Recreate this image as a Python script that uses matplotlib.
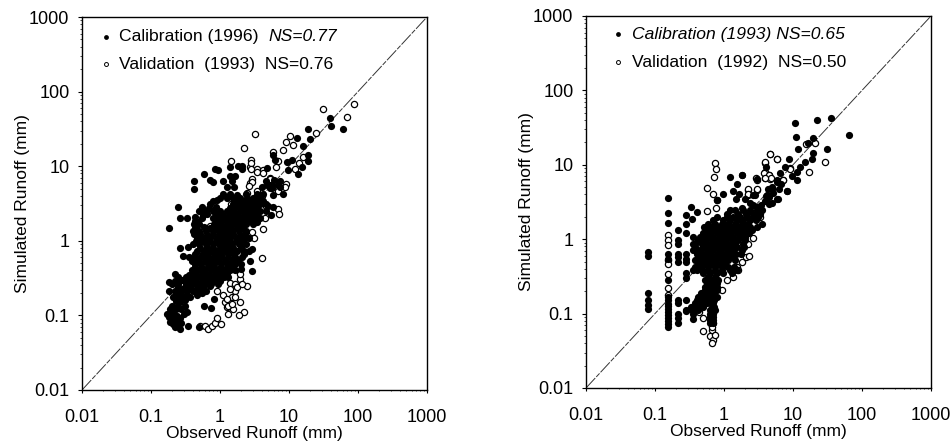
import matplotlib
matplotlib.use('Agg')
import matplotlib.pyplot as plt
import numpy as np
from matplotlib.ticker import LogLocator, NullFormatter

plt.rcParams['font.family'] = ['Liberation Sans', 'DejaVu Sans']

tick_vals = [0.01, 0.1, 1, 10, 100, 1000]
tick_labels = ['0.01', '0.1', '1', '10', '100', '1000']

# observed, simulated (mm)
cal_1996 = [(.22,.069),(.26,.066),(.34,.072),(.50,.070),(.19,.082),(.23,.08),(.27,.078),(.18,.095),(.22,.09),(.26,.093),
    (.17,.105),(.21,.11),(.3,.105),(.33,.11),(.2,.135),(.235,.13),(.31,.135),(.59,.135),(.73,.125),(.23,.157),(.26,.15),(.31,.16),(.83,.165),
    (.23,.19),(.275,.195),(.33,.19),(.46,.185),(.55,.2),(.18,.21),(.25,.24),(.3,.235),(.37,.24),(.46,.23),(.57,.24),(.71,.25),
    (.185,.28),(.22,.29),(.285,.3),(.36,.28),(.43,.3),(.54,.29),(.68,.28),(.84,.3),(1.0,.29),
    (.22,.36),(.36,.35),(.43,.37),(.54,.36),(.68,.35),(.85,.36),(1.05,.35),(1.25,.36),(2.9,.39),
    (.43,.44),(.54,.43),(.66,.45),(.82,.44),(1.0,.43),(1.25,.45),(1.55,.44),
    (.39,.54),(.47,.55),(.6,.53),(.75,.54),(.95,.55),(1.2,.53),(1.5,.54),(1.85,.55),(2.7,.53),
    (.29,.63),(.43,.66),(.54,.65),(.68,.67),(.85,.66),(1.05,.65),(1.3,.67),(1.6,.66),(2.2,.68),(2.9,.77),
    (.26,.8),(.34,.83),(.51,.81),(.64,.82),(.8,.8),(1.0,.81),(1.25,.83),(1.55,.8),(2.0,.82),
    (.45,1),(.56,1.02),(.7,.98),(.88,1),(1.1,1.02),(1.35,.98),(1.7,1),(2.1,1.02),
    (.42,1.22),(.52,1.25),(.64,1.2),(.8,1.23),(1,1.25),(1.25,1.22),(1.55,1.24),(1.95,1.2),(2.3,1.23),
    (.18,1.5),(.44,1.5),(.58,1.52),(.72,1.48),(.9,1.5),(1.12,1.52),(1.4,1.5),(1.75,1.48),(2.15,1.52),
    (.44,1.85),(.48,1.8),(.9,1.85),(1.12,1.88),(1.4,1.82),(1.75,1.85),(2.15,1.88),(2.7,1.85),(3.4,1.8),
    (.265,2.05),(.33,2.05),(.43,2.1),(.56,2.25),(.65,2.3),(.9,2.28),(1.1,2.25),(1.4,2.3),(1.75,2.28),(2.2,2.25),(2.7,2.3),(3.4,2.28),(5.5,2.2),
    (.25,2.85),(.55,2.8),(.7,2.75),(.88,2.8),(1.4,2.75),(1.7,2.85),(2.2,2.8),(2.7,2.75),(3.4,2.8),(4.9,2.9),(5.9,2.8),
    (.8,3.4),(.9,3.5),(1.7,3.4),(2.2,3.45),(2.7,3.4),(3.4,3.45),(4.2,3.4),
    (1.12,4.2),(1.4,4.25),(1.75,4.15),(2.4,4.2),(3.4,4.25),(4.2,4.2),(5.9,4.15),(8.2,4.2),
    (.42,5),(1.25,5.2),(1.6,5.2),(4,5.2),(5.3,5.1),(7.3,5.2),
    (.42,6.3),(.72,6.6),(.8,6.1),(1.1,6.3),(1.5,6.4),(4.7,6.4),(6,6.5),(7.5,6.3),
    (.59,7.9),(.85,9.2),(.93,8.9),(1.4,7.5),(1.65,7.5),(1.4,9.9),(1.85,10.2),(2.1,10),
    (39,44.6),(40.5,34.8),(60,31.7),(18.8,31.7),(20,23.3),(13,24),(16,18.7),(18.8,14),(18.8,11.8),(15.4,9.8),(13.5,7.9),
    (11,12.2),(9.4,11.4),(9.7,8.9),(5.9,14),(6.3,12.2),(4.8,9.5),(2.1,9.2),(5.7,5.6),(4.8,5.6),(6.9,5.6),(5.7,5.1)]

# points in the solid middle of the left cloud, between the ones above
cal_1996_core = [(.21,.077),(.25,.077),(.2,.097),(.24,.097),(.19,.12),(.23,.12),(.27,.12),(.21,.175),(.25,.175),(.29,.175),(.37,.175),
    (.22,.215),(.27,.215),(.33,.215),(.41,.215),(.5,.215),(.62,.215),(.2,.26),(.25,.26),(.32,.26),(.39,.26),(.48,.26),(.6,.26),(.75,.26),(.92,.26),
    (.25,.325),(.32,.325),(.39,.325),(.48,.325),(.6,.325),(.75,.325),(.93,.325),(1.13,.325),(1.3,.33),
    (.39,.4),(.48,.4),(.6,.4),(.75,.4),(.93,.4),(1.13,.4),(1.4,.4),(1.65,.4),(2,.42),
    (.43,.49),(.53,.49),(.66,.49),(.83,.49),(1.03,.49),(1.3,.49),(1.65,.49),(2.0,.49),
    (.35,.6),(.43,.6),(.53,.6),(.66,.6),(.83,.6),(1.03,.6),(1.3,.6),(1.65,.6),(2.05,.6),
    (.46,.73),(.58,.73),(.72,.73),(.9,.73),(1.12,.73),(1.4,.73),(1.75,.73),(2.2,.73),(2.6,.73),
    (.4,.9),(.5,.9),(.62,.9),(.78,.9),(.97,.9),(1.2,.9),(1.5,.9),(1.9,.9),(2.35,.9),
    (.47,1.1),(.58,1.1),(.72,1.1),(.9,1.1),(1.12,1.1),(1.4,1.1),(1.75,1.1),(2.2,1.1),(2.6,1.1),
    (.4,1.37),(.5,1.37),(.62,1.37),(.78,1.37),(.97,1.37),(1.2,1.37),(1.5,1.37),(1.9,1.37),(2.4,1.37),
    (.42,1.67),(.5,1.67),(.82,1.67),(1,1.67),(1.25,1.67),(1.55,1.67),(1.95,1.67),(2.4,1.67),(3,1.67),
    (.55,2.05),(.8,2.05),(1,2.05),(1.25,2.05),(1.55,2.05),(1.95,2.05),(2.45,2.05),(3,2.05),(3.8,2.05),
    (.5,2.5),(.62,2.5),(.78,2.5),(1,2.5),(1.25,2.5),(1.55,2.5),(1.95,2.5),(2.45,2.5),(3,2.5),(3.8,2.5),(4.7,2.5),
    (.72,3.1),(1.55,3.1),(1.95,3.1),(2.45,3.1),(3,3.1),(3.8,3.1),(4.7,3.1),
    (1.0,3.8),(1.25,3.8),(1.55,3.8),(1.95,3.8),(2.45,3.8),(3,3.8),(3.8,3.8)]

val_1993 = [(.51,.072),(.6,.071),(.68,.065),(.76,.072),(.84,.08),(.91,.092),(1.05,.076),
    (.9,.21),(1.12,.19),(1.18,.15),(1.25,.128),(1.3,.104),(1.56,.12),(1.95,.15),(2.2,.11),(1.9,.102),(1.4,.275),(1.65,.26),(1.95,.307),(2.5,.25),
    (1.65,.215),(1.5,.175),(1.75,.237),(2.05,.26),(1.4,.225),(1.25,.165),(1.3,.135),(1.5,.14),(1.65,.175),(1.95,.36),(1.75,.44),(2.2,.66),(4.1,.58),
    (2.9,1.3),(3.15,1.1),(4.15,1.46),(4.5,2.05),(7,2.65),(7.2,2.3),(1.43,11.8),(2.8,12),(2.7,9.8),(3.4,9.1),(4.2,8.9),(2.9,6.7),(2.7,5.9),(2.44,4.4),
    (4,4),(5.3,7),(9.1,5.7),(7,4.7),(1.43,3.1),(.72,1.6),(1.1,.9),(3.4,4.7),(4.7,2.9),
    (31,58.8),(87.5,68.5),(69,46),(25,27.9),(3.2,27),(2.2,17.7),(10.3,25.5),(9.1,21),(11.5,19.5),(8.2,16.6),(5.9,15.6),(6.9,11.8),(6.5,9.8),
    (2.8,11),(2.8,9.2),(3.4,8.4),(4.2,8.1),(16,13.4),(12.2,9.2),(13.9,11),(2.9,6.2),(2.6,5.4),(5.3,6.8),(8.7,5.3)]

# same for the right panel
cal_1993 = [(.08,.68),(.08,.6),(.08,.19),(.08,.15),(.08,.13),(.08,.115),
    (.152,3.6),(.152,2.25),(.152,1.67),(.152,.64),(.152,.55),(.152,.28),(.152,.165),(.152,.15),(.152,.135),(.152,.125),(.152,.115),(.152,.105),(.152,.095),(.152,.088),(.152,.08),(.152,.073),(.152,.067),
    (.213,1.32),(.213,.97),(.213,.87),(.213,.64),(.213,.58),(.213,.5),(.213,.15),(.213,.137),(.213,.1),(.213,.087),(.213,.074),
    (.28,2.1),(.28,1.6),(.28,1.2),(.28,.64),(.28,.55),(.28,.5),(.28,.35),(.28,.3),(.28,.15),(.28,.11),
    (.34,1.85),(.33,2.75),(.4,2.3),(.35,1.07),(.35,.87),(.35,.1),(.35,.085),(.35,.115),(.41,.68),(.4,.38),(.41,.115),
    (1.22,2.45),(1.44,2.45),(1.9,2.45),(2.38,2.45),(2.97,2.45),(3.5,2.45),
    (.78,2.0),(1.09,2.0),(1.37,2.0),(1.7,2.0),(2.13,2.0),(2.66,2.0),(3.15,2.0),
    (.59,1.62),(.74,1.62),(.925,1.62),(1.155,1.62),(1.44,1.62),(1.8,1.62),(2.25,1.62),(3.6,1.62),
    (.56,1.32),(.7,1.32),(.875,1.32),(1.09,1.32),(1.37,1.32),(1.7,1.32),(2.13,1.32),(2.52,1.32),
    (.45,1.07),(.56,1.07),(.7,1.07),(.875,1.07),(1.09,1.07),(1.37,1.07),(1.7,1.07),(2.0,1.07),
    (.38,.87),(.475,.87),(.59,.87),(.74,.87),(.925,.87),(1.155,.87),(1.44,.87),(1.9,.87),
    (.36,.71),(.45,.71),(.56,.71),(.7,.71),(.875,.71),(1.09,.71),(1.37,.71),(1.8,.71),
    (.42,.58),(.53,.58),(.66,.58),(.83,.58),(1.03,.58),(1.29,.58),
    (.42,.47),(.53,.47),(.66,.47),(.83,.47),(1.03,.47),
    (.36,.384),(.475,.384),(.59,.384),(.74,.384),(.925,.384),(1.22,.384),(1.53,.384),
    (.59,.312),(.74,.312),(.56,.254),(.66,.254),(.78,.254),(.53,.207),(.66,.207),(.78,.207),
    (.42,.168),(.53,.168),(.66,.168),(.78,.168),(.38,.137),(.475,.137),(.56,.137),(.7,.137),
    (.28,.111),(.34,.111),(.42,.111),(.63,.111),(.74,.111),(.62,.091),(.69,.091),(.62,.074),(.69,.074),
    (1.22,6.9),(1.8,7.2),(1.53,5.5),(1.37,4.5),(1.67,4.1),(.96,4),(1.49,3.5),(2.8,3.9),(.78,3.4),(2,3.5),(2.38,3.1),(1.8,2.65),
    (4.15,3.9),(4.5,3),(5.9,3.5),(8.1,4.4),(4.9,4.8),(5.8,5.9),
    (10.7,37),(22,39.5),(35.5,42),(65,25),(11,24),(19.5,22.7),(16.5,19.4),(11.8,16.1),(31,16.1),(19.5,14.3),(18.8,11.9),(14.9,10.8),(12.6,9.2),(11.4,7.9),(9.7,7),(11.4,6.2),
    (8.7,11.9),(7.7,9.2),(6.5,7.7),(5.9,6.2),(5,5),(4.3,4.8),(8.2,4.4),(6.1,3.5),(4,3.8),(2.6,3.9),(1.8,7.2),(3,6.4),(4,9.2)]

cal_1993_core = [(1.1,2.2),(1.6,2.2),(2.1,2.2),(2.65,2.2),(3.3,2.2),(.7,1.8),(.98,1.8),(1.22,1.8),(1.55,1.8),(1.9,1.8),(2.4,1.8),(2.95,1.8),
    (.52,1.47),(.66,1.47),(.83,1.47),(1.03,1.47),(1.29,1.47),(1.61,1.47),(2,1.47),(2.4,1.47),(3,1.47),
    (.5,1.2),(.62,1.2),(.78,1.2),(.98,1.2),(1.22,1.2),(1.53,1.2),(1.9,1.2),(2.3,1.2),
    (.42,.97),(.53,.97),(.66,.97),(.83,.97),(1.03,.97),(1.29,.97),(1.6,.97),(2,.97),
    (.38,.79),(.5,.79),(.62,.79),(.78,.79),(.98,.79),(1.22,.79),(1.53,.79),(1.95,.79),
    (.4,.64),(.5,.64),(.62,.64),(.78,.64),(.98,.64),(1.22,.64),(1.5,.64),(1.75,.64),
    (.38,.52),(.47,.52),(.59,.52),(.74,.52),(.93,.52),(1.15,.52),(1.45,.52),
    (.38,.42),(.47,.42),(.59,.42),(.74,.42),(.93,.42),(1.15,.42),(1.4,.42),
    (.5,.35),(.62,.35),(.78,.35),(.98,.35),(1.3,.35),(.53,.28),(.62,.28),(.7,.28),(.83,.28),(.53,.23),(.62,.23),(.7,.23),(.8,.23),
    (.47,.19),(.59,.19),(.7,.19),(.4,.15),(.5,.15),(.6,.15),(.72,.15),(.33,.123),(.43,.123),(.5,.123),(.66,.123),(.72,.123),
    (.62,.1),(.69,.1),(.62,.082),(.69,.082),
    (3.4,2.9),(3.9,3.3),(4.5,3.7),(5.2,4.2),(5,3.1),(6.2,4.7),(6.8,5.5),(3.0,2.7),(2.6,2.9)]

val_1992 = [(.74,10.6),(.76,8.9),(.72,6.9),(.57,4.9),(.7,4.1),(.78,3.4),(.57,2.4),(.77,2.65),(2.25,4.6),(2.97,4.6),(2.25,3.9),(2.97,6.3),(3.9,10.6),(4.6,13.8),(5.9,11.8),
    (3.9,8),(3.9,6.6),(4.5,7.4),(4.6,6.5),(7.2,6.2),(9,9),(3.3,2),(2.6,1.05),(2.25,.87),(2.08,.57),(2.33,.6),(1.8,.49),(1.53,.42),(1.58,.39),(1.33,.31),(1.09,.28),(.925,.21),
    (.5,.086),(.5,.058),(.63,.05),(.7,.044),(.66,.04),(.66,.06),(.44,.104),(.152,1.13),(.152,.97),(.152,.83),(.152,.52),(.152,.46),(.152,.34),(.152,.22),(.152,.18),(.5,.79),
    (.7,.074),(.66,.067),(.74,.052),(4.6,13.8),(5.9,11.8),(3.9,10.8),(29,10.8),(17,7.9),(9,8.9),(15.5,18.8),(20.8,19.4),(3.8,7.7),(4.5,7.2),(4.8,6.6),(3.9,6.6),(2.9,6.6),(7.2,6.2),(2.2,4.7),(3,4.7),(2.2,4)]

labels_left = ['Calibration (1996)', 'Validation  (1993)  NS=0.76']
labels_right = ['Calibration (1993) NS=0.65', 'Validation  (1992)  NS=0.50']


def panel(rect, cal, val, labels, legend_x, legend_y):
    ax = fig.add_axes([rect[0] / 952, (441 - rect[3]) / 441, (rect[2] - rect[0]) / 952, (rect[3] - rect[1]) / 441])
    ax.set_xscale('log')
    ax.set_yscale('log')
    ax.set_xlim(0.01, 1000)
    ax.set_ylim(0.01, 1000)
    ax.plot([0.01, 1000], [0.01, 1000], color='#333333', lw=0.7, dashes=(14, 1.5, 5, 1.5), zorder=1)
    c = np.array(cal)
    v = np.array(val)
    ax.scatter(v[:, 0], v[:, 1], s=20, facecolors='white', edgecolors='black', linewidths=0.9, zorder=2)
    ax.scatter(c[:, 0], c[:, 1], s=27, color='black', linewidths=0, zorder=3)
    # legend handles are smaller than the marks in the plot
    h1 = ax.scatter([], [], s=12, color='black', linewidths=0)
    h2 = ax.scatter([], [], s=8, facecolors='white', edgecolors='black', linewidths=0.7)
    leg = ax.legend([h1, h2], labels, loc='upper left', frameon=False, fontsize=12.6, bbox_to_anchor=(legend_x, legend_y),
                    borderaxespad=0, borderpad=0.3, labelspacing=0.7, handletextpad=0.1, handlelength=1.3, scatterpoints=1)
    ax.set_xticks(tick_vals)
    ax.set_xticklabels(tick_labels)
    ax.set_yticks(tick_vals)
    ax.set_yticklabels(tick_labels)
    for axis in (ax.xaxis, ax.yaxis):
        axis.set_minor_locator(LogLocator(base=10, subs=range(2, 10), numticks=12))
        axis.set_minor_formatter(NullFormatter())
    ax.tick_params(axis='y', which='major', direction='out', length=3, width=0.8, labelsize=13, pad=6)
    ax.tick_params(axis='y', which='minor', direction='out', length=1.5, width=0.5)
    ax.tick_params(axis='x', which='major', direction='out', length=2, width=0.8, labelsize=13, pad=12)
    ax.tick_params(axis='x', which='minor', direction='out', length=1, width=0.5)
    ax.set_xlabel('Observed Runoff (mm)', fontsize=12.5, labelpad=0)
    ax.set_ylabel('Simulated Runoff (mm)', fontsize=12.5, labelpad=-0.5, y=0.5)
    for s in ax.spines.values():
        s.set_linewidth(1.0)
    return ax, leg


fig = plt.figure(figsize=(9.52, 4.41), dpi=100)
ax1, leg1 = panel((82, 17, 427, 390), cal_1996 + cal_1996_core, val_1993, labels_left, 0.022, 0.982)
ax2, leg2 = panel((586, 16, 931, 388), cal_1993 + cal_1993_core, val_1992, labels_right, 0.046, 0.985)
# only the NS part is italic on the left, the whole first line on the right
ax1.text(0.539, 0.948, 'NS=0.77', transform=ax1.transAxes, fontsize=12.6, style='italic', va='center')
leg2.get_texts()[0].set_fontstyle('italic')
fig.savefig('out.png', dpi=100)
